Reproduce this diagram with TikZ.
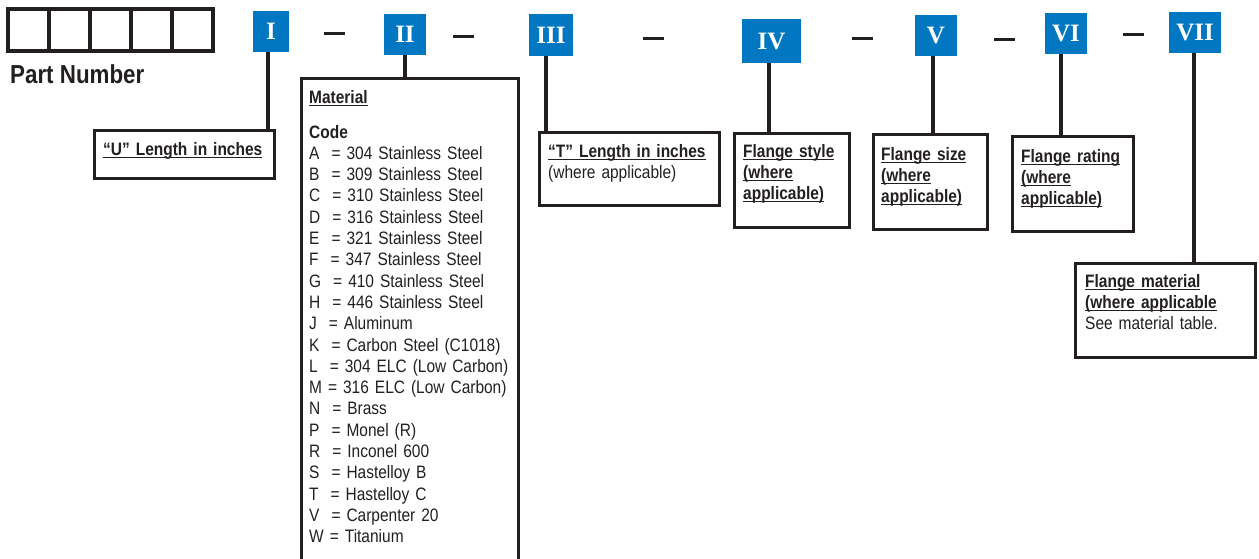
\documentclass[tikz,border=0pt]{standalone}
\usepackage{fontspec}
\setmainfont{Liberation Sans}[FakeStretch=0.86]
\newfontfamily\romanfont{Liberation Serif}
\usetikzlibrary{positioning}
\definecolor{myblue}{RGB}{0,119,192}
\definecolor{myink}{RGB}{35,31,32}
\newcommand\ulbox[1]{\leavevmode\setbox0\hbox{#1}\rlap{\rule[-2.6pt]{\wd0}{1.1pt}}\box0}

\begin{document}
\begin{tikzpicture}[x=1pt,y=-1pt,
  numbox/.style={fill=myblue,text=white,font=\romanfont\bfseries\fontsize{25}{25}\selectfont,minimum height=41pt,inner sep=0pt},
  infobox/.style={draw=myink,line width=3.2pt,anchor=north west,inner sep=0pt},
  info/.style={anchor=base west,inner sep=0pt,text width=#1,align=left,font=\fontsize{18}{21.3}\selectfont,text=myink},
  link/.style={draw=myink,line width=3.2pt},
  dashmark/.style={draw=myink,line width=3pt}]
\useasboundingbox (0,0) rectangle (1259,558);

% part number cells
\foreach \i in {0,...,4}
  \draw[myink,line width=3.2pt] (8+41*\i,9) rectangle ++(41,42);
\node[anchor=base west,inner sep=0pt,text=myink,font=\bfseries\fontsize{26}{26}\selectfont] (pnlabel) at (10,83) {Part Number};

% code positions
\node[numbox,minimum width=36pt] (nI) at (271,31) {I};
\node[numbox,minimum width=42pt] (nII) at (405,34.5) {II};
\node[numbox,minimum width=44pt,minimum height=42pt] (nIII) at (551,35) {III};
\node[numbox,minimum width=59pt,minimum height=44pt] (nIV) at (771.5,41) {IV};
\node[numbox,minimum width=42pt] (nV) at (936,35.5) {V};
\node[numbox,minimum width=42pt] (nVI) at (1066,33.5) {VI};
\node[numbox,minimum width=52pt] (nVII) at (1195,32.5) {VII};

\foreach \x/\y in {324/33,453/36,643/38,852/38,994/39,1123/34}
  \draw[dashmark] (\x,\y) -- ++(21,0);

% boxes
\node[infobox,minimum width=180pt,minimum height=48pt] (ubox) at (93,129) {};
\begin{scope}
  \clip (0,0) rectangle (1259,558);
  \node[infobox,minimum width=217pt,minimum height=520pt] (matbox) at (300,77) {};
\end{scope}
\node[infobox,minimum width=180pt,minimum height=73pt] (tbox) at (538,131) {};
\node[infobox,minimum width=115pt,minimum height=94pt] (stylebox) at (733,132) {};
\node[infobox,minimum width=114pt,minimum height=95pt] (sizebox) at (872,133) {};
\node[infobox,minimum width=121pt,minimum height=95pt] (ratingbox) at (1011,135) {};
\node[infobox,minimum width=180pt,minimum height=94pt] (flmatbox) at (1074,262) {};

% connectors
\draw[link] ([xshift=-3pt]nI.south) coordinate (cI) -- (cI |- ubox.north);
\draw[link] (nII.south) -- (nII.south |- matbox.north);
\draw[link] ([xshift=-5pt]nIII.south) coordinate (cIII) -- (cIII |- tbox.north);
\draw[link] ([xshift=-2.5pt]nIV.south) coordinate (cIV) -- (cIV |- stylebox.north);
\draw[link] ([xshift=-3pt]nV.south) coordinate (cV) -- (cV |- sizebox.north);
\draw[link] ([xshift=-5pt]nVI.south) coordinate (cVI) -- (cVI |- ratingbox.north);
\draw[link] ([xshift=-1pt]nVII.south) coordinate (cVII) -- (cVII |- flmatbox.north);

% texts
\node[info=170pt] (utext) at (103,155) {\bfseries\ulbox{``U'' Length in inches}};
\node[info=205pt] (mattext) at (309,103) {\bfseries\ulbox{Material}\\[13.7pt]
  Code\\\mdseries
  A~~= 304 Stainless Steel\\
  B~~= 309 Stainless Steel\\
  C~~= 310 Stainless Steel\\
  D~~= 316 Stainless Steel\\
  E~~= 321 Stainless Steel\\
  F~~= 347 Stainless Steel\\
  G~~= 410 Stainless Steel\\
  H~~= 446 Stainless Steel\\
  J~~= Aluminum\\
  K~~= Carbon Steel (C1018)\\
  L~~= 304 ELC (Low Carbon)\\
  M = 316 ELC (Low Carbon)\\
  N~~= Brass\\
  P~~= Monel (R)\\
  R~~= Inconel 600\\
  S~~= Hastelloy B\\
  T~~= Hastelloy C\\
  V~~= Carpenter 20\\
  W = Titanium};
\node[info=170pt] (ttext) at (548,157) {\bfseries\ulbox{``T'' Length in inches}\\\mdseries (where applicable)};
\node[info=105pt] (styletext) at (743,157) {\bfseries\ulbox{Flange style}\\\ulbox{(where}\\\ulbox{applicable)}};
\node[info=105pt] (sizetext) at (881,160) {\bfseries\ulbox{Flange size}\\\ulbox{(where}\\\ulbox{applicable)}};
\node[info=110pt] (ratingtext) at (1021,162) {\bfseries\ulbox{Flange rating}\\\ulbox{(where}\\\ulbox{applicable)}};
\node[info=165pt] (flmattext) at (1085,287) {\bfseries\ulbox{Flange material}\\\ulbox{(where applicable}\\\mdseries See material table.};
\end{tikzpicture}
\end{document}
